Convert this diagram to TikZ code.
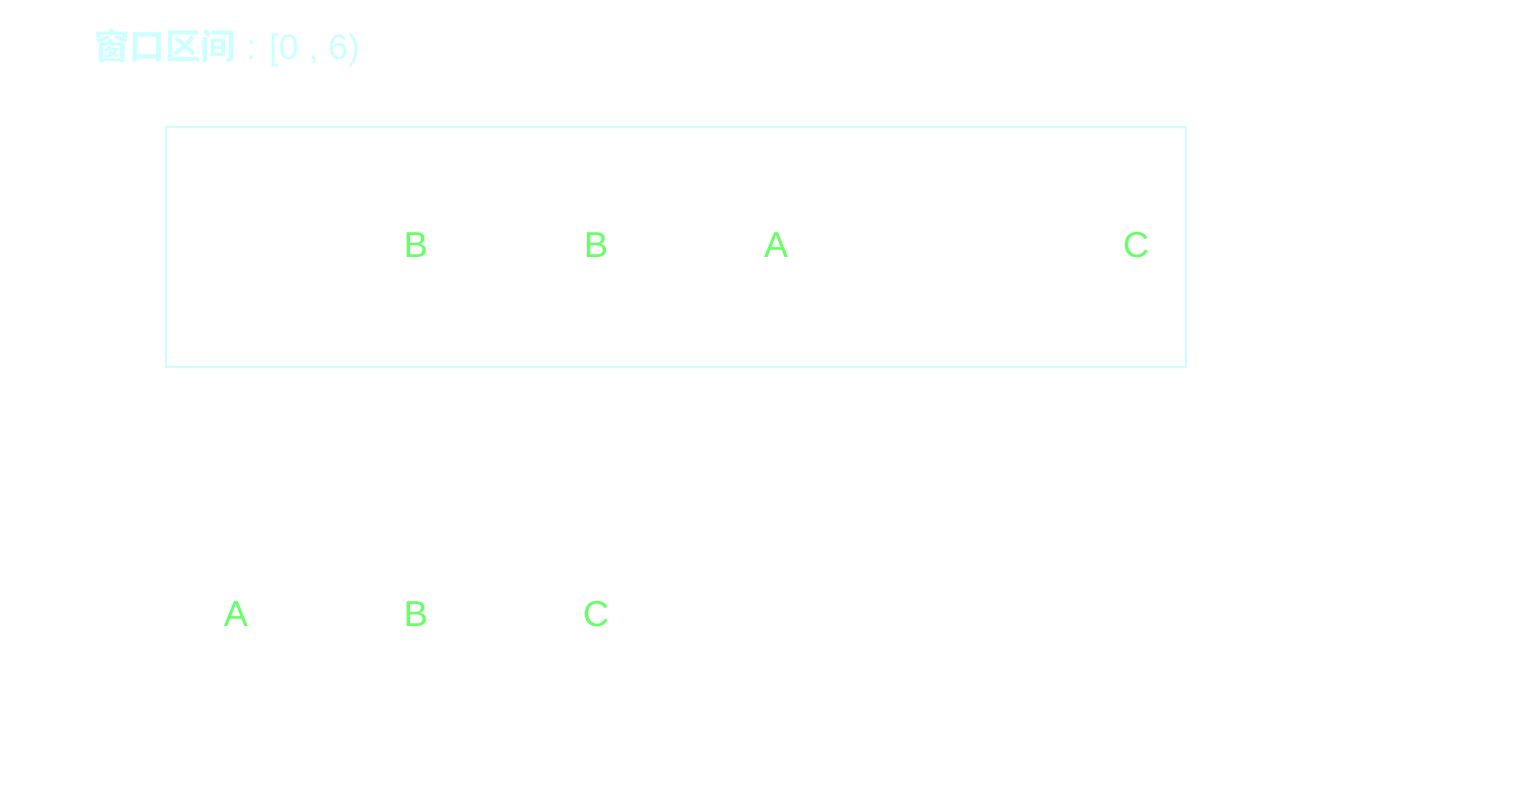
\documentclass[tikz,border=0pt]{standalone}
\usepackage{fontspec}
\setmainfont{Liberation Sans}
\newfontfamily\cjkfont{Noto Sans CJK SC}[BoldFont=* Bold]
\usetikzlibrary{positioning}
\definecolor{wincyan}{HTML}{CCFFFF}
\definecolor{itemgreen}{HTML}{66FF66}

\begin{document}
\begin{tikzpicture}[x=1pt, y=-1pt, node distance=180pt]
\tikzstyle{letter} = [ text=itemgreen, font=\fontsize{36}{40}\selectfont, inner sep=0pt ]
\tikzstyle{window} = [ rectangle, draw=wincyan, line width=2.8pt, minimum width=1020pt, minimum height=240pt, inner sep=0pt ]
\tikzstyle{caption} = [ text=wincyan, font=\fontsize{35.5}{40}\selectfont, inner sep=0pt, anchor=base west ]
\useasboundingbox (0,0) rectangle (1515,786);
% window and its title
\node [caption] (title) at (94,60) {{\cjkfont\bfseries 窗口区间} : [0 , 6)} ;
\node [window] (win) at (676,247) {} ;
% letters inside the window
\node [letter] (w-1) at (416,245) {B} ;
\node [letter, right of=w-1] (w-2) {B} ;
\node [letter, right of=w-2] (w-3) {A} ;
\node [letter, right of=w-3, node distance=360pt] (w-4) {C} ;
% letters below
\node [letter] (s-1) at (236,614) {A} ;
\node [letter, right of=s-1] (s-2) {B} ;
\node [letter, right of=s-2] (s-3) {C} ;
\end{tikzpicture}
\end{document}
